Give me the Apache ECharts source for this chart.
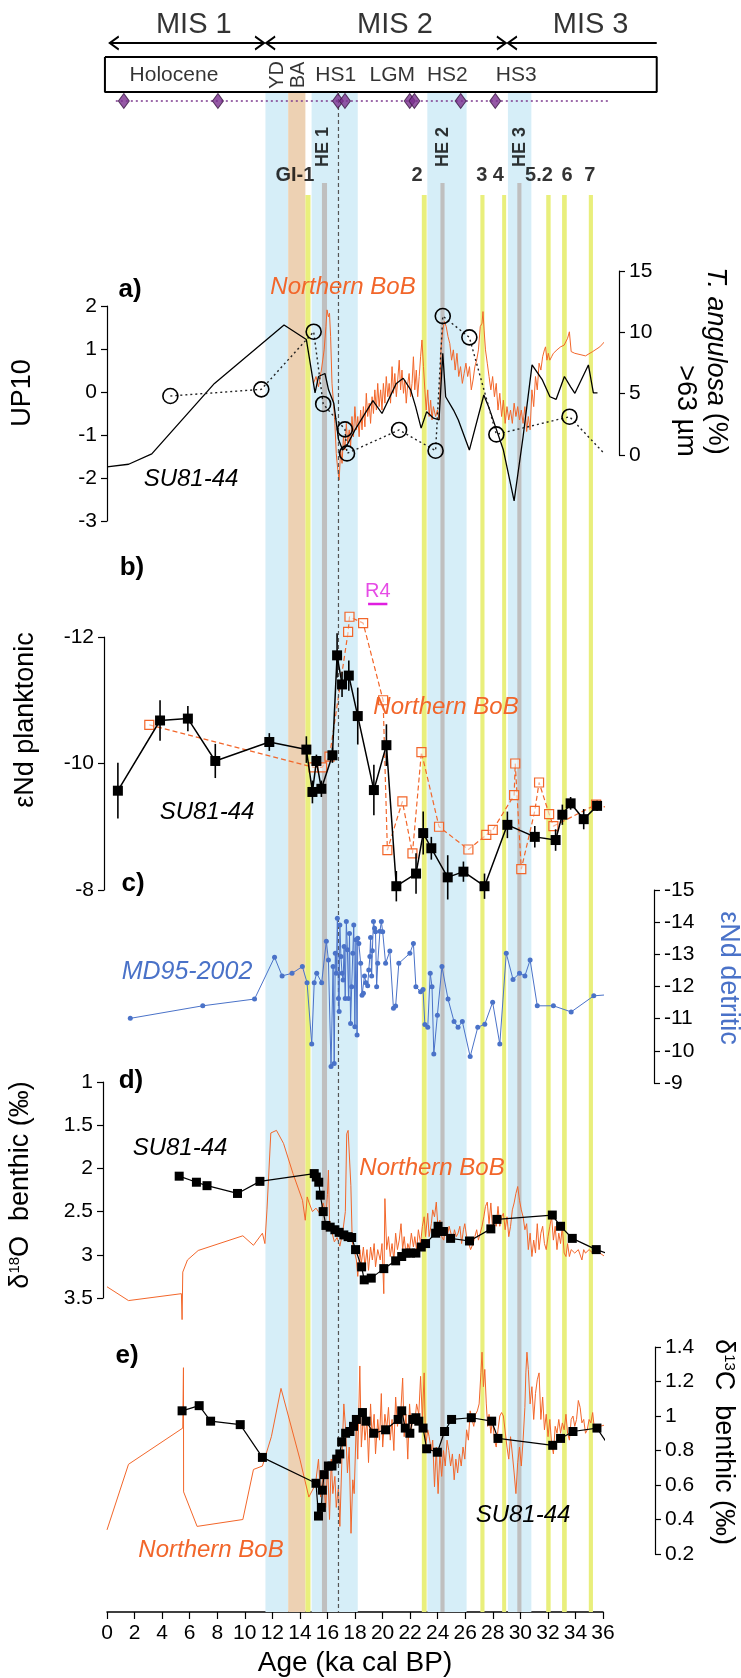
<!DOCTYPE html>
<html>
<head>
<meta charset="utf-8">
<title>SU81-44 / Northern BoB records</title>
<script src="https://cdn.jsdelivr.net/npm/echarts@6/dist/echarts.min.js"></script>
<style>
  html, body { margin: 0; padding: 0; background: #fff; }
  #main { width: 741px; height: 1678px; }
</style>
</head>
<body>
<div id="main"></div>
<script>
const FONT = '"Liberation Sans", Arial, sans-serif';
const ORANGE = '#f2662a';
const BLUE = '#4a72c8';

// ---- shaded intervals (ka cal BP) ----
const blueBands = [[11.5, 13.15], [14.85, 18.2], [23.25, 26.1], [29.1, 30.8]];
const baBand = [[13.15, 14.4]];
const yellowLines = [[14.4, 14.77], [22.85, 23.2], [27.1, 27.4], [28.68, 28.97], [31.88, 32.2], [33.03, 33.37], [34.97, 35.27]];
const heLines = [[15.6, 15.97], [24.2, 24.5], [29.78, 30.08]];
const dashedAge = 16.8;

// ---- header annotations ----
const misNames = ['MIS 1', 'MIS 2', 'MIS 3'];
const misLabelAges = [6.3, 20.9, 35.1];
const misArrows = [[0.2, 11.4], [11.55, 28.95], [29.1, 39.9]];
const boxAges = [-0.15, 39.9];
const periodNames = ['Holocene', 'HS1', 'LGM', 'HS2', 'HS3'];
const periodAges = [4.86, 16.6, 20.7, 24.7, 29.7];
const stadialNames = ['YD', 'BA'];
const stadialAges = [12.4, 13.9];
const datingAges = [1.22, 8.05, 16.76, 17.27, 21.97, 22.31, 25.67, 28.18];
const datingLine = [0.64, 36.5];
const heNames = ['HE 1', 'HE 2', 'HE 3'];
const heAges = [15.67, 24.38, 29.97];
const giNames = ['GI-1', '2', '3', '4', '5.2', '6', '7'];
const giAges = [13.64, 22.5, 27.2, 28.4, 31.35, 33.4, 35.05];
const r4Span = [18.95, 20.35];

// ---- a) UP10 and T. angulosa ----
const up10Su81 = [[0, -1.74], [1.57, -1.68], [3.25, -1.44], [7.8, 0.2], [12.85, 1.56], [14.47, 1.22], [15.1, -0.02],
  [15.35, 0.36], [15.82, 0.43], [16.08, 0.05], [16.46, -0.26], [16.8, -1.1], [17.1, -1.35], [17.4, -1.25], [18.0, -0.88],
  [19.3, -0.2], [19.96, -0.5], [21.0, 0.2], [21.5, 0.32], [22.04, 0.05], [22.4, -0.34], [22.8, -0.84], [23.2, -0.46],
  [23.7, -0.61], [24.1, -0.65], [24.37, 0.9], [24.58, -0.11], [25.15, -0.42], [25.5, -0.65], [26.3, -1.35], [27.35, -0.07],
  [27.74, -0.38], [28.77, -1.35], [29.55, -2.53], [30.2, -1.04], [30.85, 0.63], [31.6, 0.28], [32.15, -0.11], [32.6, -0.17],
  [33.2, 0.36], [33.65, 0.12], [33.96, -0.03], [34.94, 0.63], [35.3, -0.02], [35.6, -0.02]];
const up10Bob = [[14.99, 0.2], [15.17, 0.36], [15.35, 0.12], [15.56, 0.51], [15.76, 0.98], [15.89, 1.52], [15.97, 1.91],
  [16.07, 1.75], [16.15, 1.83], [16.23, 1.29], [16.33, 0.2], [16.46, -0.34], [16.54, -0.73], [16.64, -1.43], [16.75, -1.81],
  [16.85, -2.05], [16.96, -1.35], [17.06, -1.66], [17.16, -1.04], [17.27, -1.35], [17.37, -0.73], [17.47, -1.19], [17.58, -0.88],
  [17.68, -1.27], [17.78, -0.57], [17.89, -1.04], [17.99, -0.34], [18.1, -0.88], [18.2, -0.57], [18.3, -1.04], [18.41, -0.42],
  [18.51, -0.88], [18.61, -0.34], [18.72, -0.81], [18.82, -0.03], [18.92, -0.57], [19.03, -0.26], [19.13, -0.73], [19.24, -0.11],
  [19.34, -0.5], [19.44, 0.05], [19.55, -0.42], [19.65, 0.2], [19.75, -0.34], [19.86, 0.05], [19.96, -0.42], [20.06, 0.2],
  [20.17, -0.26], [20.27, 0.36], [20.38, -0.11], [20.48, 0.2], [20.58, -0.26], [20.69, 0.59], [20.79, -0.03], [20.89, 0.43],
  [21.0, -0.11], [21.1, 0.28], [21.21, 0.74], [21.31, 0.05], [21.41, 0.51], [21.52, -0.03], [21.62, 0.28], [21.72, -0.26],
  [21.83, 0.2], [21.93, 0.43], [22.03, -0.11], [22.14, 0.2], [22.24, 0.82], [22.34, 0.05], [22.45, 0.51], [22.55, -0.11],
  [22.66, 0.36], [22.76, 0.82], [22.86, 1.21], [22.97, 0.59], [23.07, 0.05], [23.17, -0.42], [23.28, 0.05], [23.38, -0.57],
  [23.49, -0.19], [23.59, -0.65], [23.69, -0.34], [23.85, -0.57], [23.98, -0.42], [24.11, -0.65], [24.24, 0.98], [24.37, 1.44],
  [24.49, 1.64], [24.62, 1.52], [24.75, 1.29], [24.88, 1.13], [25.01, 0.74], [25.14, 0.98], [25.27, 0.51], [25.4, 0.9],
  [25.53, 0.36], [25.66, 0.59], [25.79, 0.2], [25.92, 0.43], [26.05, 0.67], [26.18, 0.36], [26.31, 0.59], [26.44, 0.05],
  [26.57, 0.28], [26.7, 0.59], [26.83, 0.74], [26.96, 0.98], [27.09, 1.52], [27.22, 1.6], [27.29, 1.87], [27.37, 1.44],
  [27.47, 0.98], [27.6, 0.67], [27.73, 0.36], [27.86, 0.05], [27.99, 0.36], [28.12, -0.11], [28.25, 0.2], [28.38, -0.42],
  [28.51, -0.03], [28.64, -0.57], [28.77, -0.19], [28.9, -0.73], [29.03, -0.34], [29.16, -0.65], [29.29, -0.42], [29.42, -0.73],
  [29.55, -0.26], [29.68, -0.57], [29.81, -0.34], [29.94, -0.65], [30.07, -0.42], [30.2, -0.73], [30.33, -0.34], [30.46, -0.92],
  [30.58, -0.57], [30.71, -0.88], [30.84, 0.05], [30.97, -0.34], [31.1, 0.36], [31.23, 0.05], [31.36, 0.67], [31.49, 0.51],
  [31.62, 0.82], [31.75, 0.98], [31.83, 1.05], [31.93, 0.74], [32.03, 0.9], [32.14, 0.74], [32.27, 0.82], [32.4, 0.9],
  [32.66, 0.98], [32.92, 1.05], [33.18, 1.09], [33.43, 1.25], [33.56, 1.4], [33.69, 0.94], [33.95, 0.9], [34.73, 0.84],
  [35.25, 0.94], [35.77, 1.05], [36.23, 1.21]];
const tangSu81 = [[4.6, 4.81], [11.2, 5.35], [15.0, 10.05], [15.69, 4.16], [17.27, 2.09], [17.42, 0.13], [21.2, 2.04],
  [23.85, 0.35], [24.37, 11.33], [26.3, 9.59], [28.26, 1.68], [33.57, 3.12]];
const tangEnd = [36.08, 0.13];

// ---- b) eNd planktonic ----
const ndSu81 = [[0.79, -9.57], [3.85, -10.68], [5.87, -10.71], [7.86, -10.04], [11.78, -10.34], [14.47, -10.22],
  [14.91, -9.55], [15.2, -10.04], [15.56, -9.6], [16.36, -10.13], [16.7, -11.71], [17.06, -11.25], [17.55, -11.39],
  [18.2, -10.75], [19.37, -9.58], [20.28, -10.29], [21.0, -8.06], [22.43, -8.26], [22.95, -8.9], [23.54, -8.66],
  [24.73, -8.2], [25.87, -8.29], [27.4, -8.06], [29.06, -9.03], [31.05, -8.84], [32.56, -8.79], [33.05, -9.19],
  [33.65, -9.37], [34.6, -9.12], [35.57, -9.33]];
const ndSu81Err = [0.44, 0.32, 0.2, 0.27, 0.14, 0.21, 0.18, 0.1, 0.13, 0.12, 0.35, 0.2, 0.24, 0.45, 0.4, 0.33,
  0.24, 0.32, 0.34, 0.18, 0.35, 0.16, 0.2, 0.21, 0.17, 0.17, 0.16, 0.1, 0.16, 0.08];
const ndBob = [[3.07, -10.61], [14.99, -9.94], [15.61, -9.94], [16.15, -10.11], [17.5, -12.08], [17.6, -12.32],
  [18.59, -12.22], [20.04, -11.0], [20.35, -8.63], [21.44, -9.4], [22.17, -8.58], [22.82, -10.18], [24.1, -9.0],
  [26.23, -8.64], [27.53, -8.87], [28.0, -8.95], [29.55, -9.5], [29.63, -10.0], [30.07, -8.33], [31.05, -9.25],
  [31.36, -9.7], [32.09, -9.2], [32.4, -9.01], [35.5, -9.35]];
const ndBobEnd = [36.2, -9.31];

// ---- c) eNd detritic MD95-2002 ----
const ndDet = [[1.69, -11.01], [6.95, -11.4], [10.71, -11.61], [12.16, -12.91], [12.71, -12.33], [13.43, -12.41],
  [14.18, -12.62], [14.52, -12.12], [14.86, -10.21], [15.04, -12.12], [15.22, -12.41], [15.58, -12.12], [15.92, -13.41],
  [16.07, -12.82], [16.26, -9.51], [16.41, -12.62], [16.49, -9.61], [16.57, -13.03], [16.64, -12.41], [16.72, -14.12],
  [16.8, -11.63], [16.85, -11.22], [16.9, -13.91], [16.98, -12.93], [17.06, -12.41], [17.14, -12.2], [17.21, -13.24],
  [17.29, -11.63], [17.37, -14.02], [17.45, -13.14], [17.53, -11.63], [17.6, -13.65], [17.68, -10.85], [17.76, -11.99],
  [17.84, -13.03], [17.91, -13.91], [17.99, -10.75], [18.07, -13.45], [18.15, -10.49], [18.2, -13.5], [18.28, -13.34],
  [18.41, -12.72], [18.51, -11.73], [18.61, -11.79], [18.69, -12.33], [18.8, -12.12], [18.92, -12.02], [19.0, -12.51],
  [19.08, -12.93], [19.13, -13.52], [19.21, -12.33], [19.26, -13.11], [19.34, -14.02], [19.42, -13.81], [19.49, -13.7],
  [19.57, -11.99], [19.65, -12.72], [19.81, -13.72], [19.91, -14.02], [20.01, -13.7], [20.22, -12.72], [20.53, -13.1],
  [20.79, -11.32], [20.95, -11.39], [21.18, -12.72], [21.98, -13.03], [22.24, -13.34], [22.42, -11.99], [22.76, -11.84],
  [22.94, -11.91], [23.07, -10.82], [23.28, -10.73], [23.46, -12.41], [23.59, -11.99], [23.72, -9.9], [23.98, -11.11],
  [24.31, -12.62], [24.75, -11.61], [25.19, -10.91], [25.48, -10.73], [25.79, -10.91], [26.36, -9.82], [26.91, -10.73],
  [27.42, -10.83], [27.99, -11.51], [28.51, -10.21], [28.98, -13.03], [29.47, -12.22], [29.94, -12.41], [30.33, -12.33],
  [30.71, -12.82], [31.23, -11.4], [32.4, -11.4], [33.69, -11.21], [35.33, -11.71]];
const ndDetEnd = [36.23, -11.74];

// ---- d) d18O benthic ----
const d18Su81 = [[5.24, 2.09], [6.49, 2.16], [7.26, 2.2], [9.47, 2.29], [11.1, 2.15], [15.04, 2.06], [15.19, 2.1],
  [15.37, 2.16], [15.48, 2.31], [15.69, 2.5], [15.89, 2.66], [16.2, 2.68], [16.54, 2.71], [16.85, 2.74], [17.19, 2.77],
  [17.5, 2.79], [17.76, 2.8], [18.04, 2.94], [18.48, 3.14], [18.67, 3.29], [19.18, 3.27], [20.09, 3.16], [20.95, 3.07],
  [21.39, 3.02], [21.72, 2.98], [22.03, 2.98], [22.42, 2.98], [22.81, 2.91], [23.12, 2.87], [23.85, 2.75], [24.03, 2.67],
  [24.42, 2.73], [24.94, 2.81], [26.31, 2.84], [27.86, 2.7], [28.3, 2.59], [32.32, 2.54], [32.92, 2.67], [33.77, 2.81],
  [35.51, 2.94]];
const d18Su81End = [36.23, 2.98];
const d18Bob = [[0, 3.37], [1.56, 3.53], [5.4, 3.45], [5.45, 3.75], [5.5, 3.2], [5.84, 3.06], [6.62, 2.95], [9.86, 2.78],
  [10.63, 2.89], [11.28, 2.75], [11.46, 2.87], [11.61, 2.48], [11.89, 1.59], [12.3, 1.56], [12.81, 1.71], [13.5, 2.06],
  [14.19, 2.37], [14.39, 2.6], [14.53, 2.33], [14.65, 2.39], [14.91, 2.5], [15.17, 2.46], [15.43, 2.52], [15.69, 2.4],
  [15.9, 2.55], [16.0, 2.3], [16.07, 2.02], [16.15, 2.6], [16.3, 2.72], [16.5, 2.85], [16.7, 2.8], [16.9, 2.9], [17.1, 2.75],
  [17.3, 2.5], [17.4, 1.6], [17.5, 1.56], [17.6, 1.58], [17.7, 2.2], [17.8, 2.85], [17.94, 2.83], [18.1, 3.06], [18.2, 3.25],
  [18.35, 2.94], [18.46, 3.1], [18.61, 2.91], [18.72, 3.14], [18.87, 2.94], [18.98, 3.18], [19.13, 2.91], [19.26, 3.06],
  [19.39, 2.87], [19.49, 3.14], [19.65, 2.94], [19.83, 3.06], [19.96, 2.87], [20.09, 3.45], [20.17, 2.35], [20.3, 2.94],
  [20.43, 2.79], [20.56, 3.02], [20.69, 2.87], [20.82, 3.06], [20.95, 2.75], [21.08, 2.94], [21.21, 2.83], [21.34, 2.64],
  [21.46, 2.94], [21.57, 2.79], [21.72, 3.02], [21.83, 2.87], [21.96, 2.94], [22.09, 2.75], [22.24, 2.91], [22.34, 2.79],
  [22.47, 2.94], [22.6, 2.71], [22.76, 2.87], [22.89, 2.67], [23.02, 2.56], [23.12, 2.79], [23.28, 2.52], [23.38, 2.79],
  [23.54, 2.64], [23.64, 2.48], [23.77, 2.56], [23.9, 2.39], [24.03, 2.71], [24.16, 2.6], [24.29, 2.79], [24.44, 2.83],
  [24.57, 2.71], [24.7, 2.79], [24.83, 2.67], [24.96, 2.75], [25.09, 2.83], [25.22, 2.71], [25.35, 2.79], [25.48, 2.75],
  [25.61, 2.67], [25.74, 2.87], [25.87, 2.71], [25.97, 2.64], [26.1, 2.79], [26.26, 2.87], [26.39, 2.94], [26.57, 2.87],
  [26.7, 2.79], [26.83, 2.71], [26.96, 2.83], [27.09, 2.75], [27.22, 2.67], [27.35, 2.56], [27.47, 2.44], [27.6, 2.39],
  [27.73, 2.64], [27.86, 2.4], [27.99, 2.71], [28.12, 2.56], [28.25, 2.67], [28.38, 2.44], [28.51, 2.67], [28.64, 2.56],
  [28.77, 2.52], [28.9, 2.71], [29.03, 2.56], [29.16, 2.79], [29.29, 2.67], [29.42, 2.48], [29.55, 2.4], [29.68, 2.29],
  [29.81, 2.21], [29.94, 2.37], [30.07, 2.48], [30.2, 2.56], [30.33, 2.71], [30.46, 2.64], [30.58, 2.94], [30.71, 2.75],
  [30.84, 3.02], [30.97, 2.83], [31.1, 2.98], [31.23, 2.64], [31.36, 2.94], [31.49, 2.75], [31.62, 2.67], [31.75, 2.87],
  [31.88, 2.94], [32.01, 2.79], [32.14, 2.67], [32.27, 2.56], [32.4, 2.83], [32.53, 2.67], [32.66, 2.94], [32.79, 2.75],
  [32.92, 2.87], [33.05, 2.67], [33.18, 2.98], [33.31, 3.02], [33.43, 2.87], [33.56, 3.02], [33.69, 2.94], [33.95, 2.98],
  [34.21, 2.94], [34.47, 3.06], [34.6, 2.94], [34.73, 2.98], [34.99, 2.94], [35.25, 2.98], [35.51, 2.96], [35.77, 2.98],
  [36.23, 3.03]];

// ---- e) d13C benthic ----
const d13Su81 = [[5.45, 1.03], [6.69, 1.06], [7.52, 0.97], [9.67, 0.95], [11.28, 0.76], [15.17, 0.61], [15.35, 0.42],
  [15.56, 0.47], [15.63, 0.57], [15.76, 0.66], [16.07, 0.71], [16.33, 0.71], [16.67, 0.75], [16.9, 0.78], [17.03, 0.85],
  [17.32, 0.9], [17.63, 0.91], [17.89, 0.94], [18.1, 0.98], [18.54, 1.02], [18.8, 0.97], [19.36, 0.9], [20.22, 0.92],
  [21.13, 0.98], [21.39, 1.03], [21.65, 0.93], [21.98, 0.9], [22.19, 0.98], [22.42, 0.99], [22.63, 0.97], [22.94, 0.93],
  [23.2, 0.81], [23.98, 0.79], [24.5, 0.91], [25.01, 0.98], [26.44, 0.99], [27.92, 0.97], [28.38, 0.87], [32.35, 0.83],
  [32.92, 0.87], [33.82, 0.91], [35.56, 0.93]];
const d13Su81End = [36.23, 0.85];
const d13Bob = [[0, 0.34], [1.56, 0.72], [5.5, 0.93], [5.55, 1.28], [5.56, 0.56], [6.54, 0.36], [9.86, 0.4], [10.63, 0.69],
  [11.28, 0.71], [11.93, 0.88], [12.63, 1.16], [14.0, 0.75], [14.65, 0.53], [15.04, 0.59], [15.17, 0.63], [15.35, 0.75],
  [15.5, 0.53], [15.69, 0.67], [15.87, 0.47], [16.02, 0.71], [16.15, 0.4], [16.28, 0.75], [16.39, 0.55], [16.54, 0.65],
  [16.64, 0.47], [16.8, 0.59], [16.9, 0.36], [17.06, 0.78], [17.19, 1.07], [17.32, 0.92], [17.45, 0.67], [17.58, 0.82],
  [17.71, 0.32], [17.84, 0.63], [17.94, 0.55], [18.1, 0.98], [18.2, 0.75], [18.35, 1.29], [18.46, 0.82], [18.61, 1.01],
  [18.72, 0.86], [18.87, 0.98], [18.98, 0.73], [19.13, 1.07], [19.24, 0.88], [19.39, 1.01], [19.49, 0.78], [19.65, 0.98],
  [19.78, 0.86], [19.91, 1.13], [20.01, 0.82], [20.17, 1.01], [20.3, 0.92], [20.43, 1.05], [20.56, 0.86], [20.69, 0.98],
  [20.82, 0.8], [20.95, 1.11], [21.08, 0.94], [21.21, 1.01], [21.34, 1.05], [21.46, 1.22], [21.57, 0.88], [21.7, 1.01],
  [21.83, 0.75], [21.96, 1.07], [22.09, 0.92], [22.21, 1.01], [22.34, 0.96], [22.47, 1.07], [22.63, 1.01], [22.76, 1.23],
  [22.89, 0.98], [23.02, 1.25], [23.12, 0.82], [23.28, 0.92], [23.38, 0.88], [23.54, 0.8], [23.64, 0.86], [23.77, 0.59],
  [23.9, 0.82], [24.03, 0.55], [24.16, 0.78], [24.29, 0.65], [24.42, 0.8], [24.55, 0.71], [24.68, 0.86], [24.81, 0.8],
  [24.94, 0.71], [25.07, 0.78], [25.2, 0.63], [25.32, 0.75], [25.45, 0.67], [25.58, 0.78], [25.71, 0.71], [25.84, 0.82],
  [25.97, 0.75], [26.1, 0.92], [26.23, 0.86], [26.36, 1.03], [26.49, 0.98], [26.62, 0.94], [26.75, 1.01], [26.88, 1.03],
  [27.01, 1.07], [27.14, 1.25], [27.22, 1.37], [27.32, 1.17], [27.42, 1.27], [27.53, 1.07], [27.63, 0.94], [27.73, 1.01],
  [27.86, 0.9], [27.99, 0.98], [28.12, 0.86], [28.25, 0.82], [28.38, 0.92], [28.51, 1.0], [28.64, 1.02], [28.77, 1.0],
  [28.9, 1.0], [29.03, 0.82], [29.16, 0.75], [29.29, 0.88], [29.42, 0.78], [29.55, 0.67], [29.68, 0.55], [29.81, 0.73],
  [29.94, 0.82], [30.07, 0.71], [30.2, 0.86], [30.33, 1.05], [30.4, 1.25], [30.48, 1.37], [30.58, 1.27], [30.71, 1.07],
  [30.84, 1.17], [30.97, 0.98], [31.1, 1.13], [31.23, 1.21], [31.36, 1.25], [31.49, 0.98], [31.62, 1.11], [31.75, 0.92],
  [31.88, 1.01], [32.01, 0.88], [32.14, 0.98], [32.27, 0.84], [32.4, 0.78], [32.53, 0.94], [32.66, 0.9], [32.79, 0.98],
  [32.92, 0.9], [33.05, 0.96], [33.18, 0.92], [33.31, 1.01], [33.43, 0.9], [33.56, 0.86], [33.69, 0.98], [33.82, 1.0],
  [33.95, 0.94], [34.08, 0.98], [34.21, 1.09], [34.34, 1.05], [34.47, 0.96], [34.6, 0.98], [34.73, 0.9], [34.86, 0.92],
  [34.99, 0.98], [35.12, 0.96], [35.25, 1.02], [35.38, 0.92], [35.51, 0.94], [35.77, 0.94], [36.23, 0.95]];

// ---------------------------------------------------------------
const chart = echarts.init(document.getElementById('main'));

const PX_PER_KA = 496 / 36;
const grids = [
  { top: 0, height: 1612 },   // shared age axis and shading
  { top: 306, height: 215 },  // a) UP10
  { top: 271, height: 184 },  // a) T. angulosa
  { top: 637, height: 253 },  // b)
  { top: 890, height: 193 },  // c)
  { top: 1082, height: 216 }, // d)
  { top: 1347, height: 207 }, // e)
  // header strip: same age scale, widened to -1 .. 40 ka so the box and MIS 3 arrow fit
  { top: 0, height: 1612, left: 107 - PX_PER_KA, width: 41 * PX_PER_KA }
].map(g => Object.assign({ left: 107, width: 496, outerBoundsMode: 'none' }, g));

const xAxes = grids.map((g, i) => ({
  gridIndex: i, type: 'value', min: i === 7 ? -1 : 0, max: i === 7 ? 40 : 36, interval: 2, show: i === 0,
  axisLine: { onZero: false, lineStyle: { color: '#000', width: 1.5 } },
  axisTick: { length: 7, lineStyle: { color: '#000', width: 1.2 } },
  axisLabel: { fontSize: 21, color: '#000', margin: 11, fontFamily: FONT },
  splitLine: { show: false },
  name: i === 0 ? 'Age (ka cal BP)' : '', nameLocation: 'middle', nameGap: 37,
  nameTextStyle: { fontSize: 28, color: '#000', fontFamily: FONT }
}));

function yAx(grid, min, max, interval, extra) {
  return Object.assign({
    gridIndex: grid, type: 'value', min: min, max: max, interval: interval,
    axisLine: { show: true, onZero: false, lineStyle: { color: '#000', width: 1.2 } },
    axisTick: { show: true, length: 6, lineStyle: { color: '#000', width: 1.2 } },
    axisLabel: { fontSize: 21, color: '#000', margin: 10, fontFamily: FONT },
    splitLine: { show: false }
  }, extra);
}

const yAxes = [
  { gridIndex: 0, type: 'value', min: 0, max: 1612, inverse: true, show: false },
  yAx(1, -3, 2, 1, {}),
  yAx(2, 0, 15, 5, { position: 'right', offset: 16 }),
  yAx(3, -12, -8, 2, { inverse: true, offset: 3 }),
  yAx(4, -15, -9, 1, { inverse: true, position: 'right', offset: 51 }),
  yAx(5, 1, 3.5, 0.5, { inverse: true, offset: 4 }),
  yAx(6, 0.2, 1.4, 0.2, { position: 'right', offset: 52 }),
  { gridIndex: 7, type: 'value', min: 0, max: 1612, inverse: true, show: false }
];

const on = i => ({ xAxisIndex: i, yAxisIndex: i });
const HDR = 7;

const bandArea = (list, top, color) => list.map(([a, b]) => [
  { xAxis: a, yAxis: top, itemStyle: { color: color } }, { xAxis: b, yAxis: 1612 }
]);

function labelSeries(names, ages, ypx, label) {
  return {
    type: 'scatter', ...on(HDR), clip: false, silent: true, z: 10, symbolSize: 1,
    itemStyle: { color: 'rgba(0,0,0,0)' },
    data: names.map((n, i) => ({ name: n, value: [ages[i], ypx] })),
    label: Object.assign({ show: true, position: 'inside', color: '#000', fontFamily: FONT,
      formatter: p => p.name }, label)
  };
}

const chevL = 'path://M10,0L0,5L10,10';
const chevR = 'path://M0,0L10,5L0,10';

const errBars = ndSu81.map(([a, v], i) => [a, v - ndSu81Err[i], v + ndSu81Err[i]]);

const series = [
  // shaded bands
  { type: 'line', ...on(0), data: [], silent: true, z: 0,
    markArea: { silent: true, itemStyle: { opacity: 1 },
      data: [].concat(bandArea(blueBands, 93, '#d6eef8'), bandArea(baBand, 93, '#edd1b3'),
        bandArea(yellowLines, 195, '#e9ef7c'), bandArea(heLines, 183, '#bfbfbf')) } },
  // dashed age line
  { type: 'line', ...on(0), silent: true, z: 4, symbol: 'none',
    data: [[dashedAge, 92], [dashedAge, 1612]],
    lineStyle: { type: [4, 3], color: '#555', width: 1.2 } },
  // header box
  { type: 'line', ...on(HDR), silent: true, symbol: 'none',
    data: [[boxAges[0], 57], [boxAges[1], 57], [boxAges[1], 92], [boxAges[0], 92], [boxAges[0], 57]],
    lineStyle: { color: '#000', width: 2 } },
  // MIS arrows
  ...misArrows.map(([a, b], i) => ({
    type: 'line', ...on(HDR), silent: true, symbolSize: [9, 13], showAllSymbol: true,
    lineStyle: { color: '#000', width: 1.8 },
    itemStyle: { color: 'rgba(0,0,0,0)', borderColor: '#000', borderWidth: 1.8 },
    data: [
      { value: [a, 43], symbol: chevL, symbolOffset: [4.5, 0] },
      { value: [b, 43], symbol: i < 2 ? chevR : 'none', symbolOffset: [-4.5, 0] }
    ]
  })),
  // dating control points
  { type: 'line', ...on(HDR), silent: true, symbol: 'none',
    data: datingLine.map(a => [a, 101]), lineStyle: { type: [2, 3], color: '#7d3a8f', width: 1.6 } },
  { type: 'scatter', ...on(HDR), silent: true, z: 5, symbol: 'diamond', symbolSize: [11, 15],
    data: datingAges.map(a => [a, 101]),
    itemStyle: { color: '#7b2f8f', borderColor: '#3b1a44', borderWidth: 1 } },
  // header labels
  labelSeries(misNames, misLabelAges, 25, { fontSize: 29 }),
  labelSeries(periodNames, periodAges, 75, { fontSize: 21 }),
  labelSeries(stadialNames, stadialAges, 75, { fontSize: 20, rotate: 90 }),
  labelSeries(heNames, heAges, 147, { fontSize: 18, fontWeight: 'bold', rotate: 90 }),
  labelSeries(giNames, giAges, 175, { fontSize: 20, fontWeight: 'bold' }),
  labelSeries(['R4'], [(r4Span[0] + r4Span[1]) / 2], 591, { fontSize: 20, color: '#e01ee0' }),
  { type: 'line', ...on(HDR), silent: true, symbol: 'none', data: r4Span.map(a => [a, 604]),
    lineStyle: { color: '#e01ee0', width: 2.5 } },

  // a)
  { type: 'line', ...on(1), clip: false, z: 3, symbol: 'none', data: up10Bob,
    lineStyle: { color: ORANGE, width: 1 } },
  { type: 'line', ...on(1), z: 4, symbol: 'none', data: up10Su81,
    lineStyle: { color: '#000', width: 1.3 } },
  { type: 'line', ...on(2), clip: false, z: 6, symbol: 'circle', symbolSize: 15, showAllSymbol: true,
    data: tangSu81.concat([{ value: tangEnd, symbol: 'none' }]),
    itemStyle: { color: 'rgba(255,255,255,0)', borderColor: '#000', borderWidth: 1.6 },
    lineStyle: { type: [2, 3], color: '#222', width: 1.4 } },

  // b)
  { type: 'line', ...on(3), clip: false, z: 3, symbol: 'rect', symbolSize: 9, showAllSymbol: true,
    data: ndBob.concat([{ value: ndBobEnd, symbol: 'none' }]),
    itemStyle: { color: 'rgba(255,255,255,0.5)', borderColor: ORANGE, borderWidth: 1.2 },
    lineStyle: { type: [5, 3], color: ORANGE, width: 1.2 } },
  { type: 'custom', ...on(3), z: 4, clip: false, data: errBars,
    encode: { x: 0, y: [1, 2] },
    renderItem: function (params, api) {
      const p1 = api.coord([api.value(0), api.value(1)]);
      const p2 = api.coord([api.value(0), api.value(2)]);
      return { type: 'line', shape: { x1: p1[0], y1: p1[1], x2: p2[0], y2: p2[1] },
        style: { stroke: '#000', lineWidth: 1.6 } };
    } },
  { type: 'line', ...on(3), clip: false, z: 5, symbol: 'rect', symbolSize: 10, showAllSymbol: true,
    data: ndSu81, itemStyle: { color: '#000' }, lineStyle: { color: '#000', width: 1.5 } },

  // c)
  { type: 'line', ...on(4), clip: false, z: 4, symbol: 'circle', symbolSize: 5, showAllSymbol: true,
    data: ndDet.concat([{ value: ndDetEnd, symbol: 'none' }]),
    itemStyle: { color: BLUE }, lineStyle: { color: BLUE, width: 1 } },

  // d)
  { type: 'line', ...on(5), clip: false, z: 3, symbol: 'none', data: d18Bob,
    lineStyle: { color: ORANGE, width: 1 } },
  { type: 'line', ...on(5), clip: false, z: 5, symbol: 'rect', symbolSize: 9, showAllSymbol: true,
    data: d18Su81.concat([{ value: d18Su81End, symbol: 'none' }]),
    itemStyle: { color: '#000' }, lineStyle: { color: '#000', width: 1.2 } },

  // e)
  { type: 'line', ...on(6), clip: false, z: 3, symbol: 'none', data: d13Bob,
    lineStyle: { color: ORANGE, width: 1 } },
  { type: 'line', ...on(6), clip: false, z: 5, symbol: 'rect', symbolSize: 9, showAllSymbol: true,
    data: d13Su81.concat([{ value: d13Su81End, symbol: 'none' }]),
    itemStyle: { color: '#000' }, lineStyle: { color: '#000', width: 1.2 } }
];

// text annotations (titles, panel letters, record names)
function txt(text, x, y, style, rot) {
  return { type: 'text', x: x, y: y, rotation: rot || 0, silent: true, z: 100,
    style: Object.assign({ text: text, fontFamily: FONT, fontSize: 24, fill: '#000',
      align: 'center', verticalAlign: 'middle' }, style) };
}
const UP = Math.PI / 2, DOWN = -Math.PI / 2;
const titleStyle = { fontSize: 27 };
const supRich = { n: { fontSize: 27, fontFamily: FONT }, s: { fontSize: 15, fontFamily: FONT, verticalAlign: 'top' } };
const letter = { fontSize: 26, fontWeight: 'bold' };
const italic = (color, size) => ({ fontStyle: 'italic', fill: color, fontSize: size || 24 });

const graphics = [
  txt('UP10', 23, 393, titleStyle, UP),
  txt('εNd planktonic', 26, 720, titleStyle, UP),
  txt('{n|δ}{s|18}{n|O  benthic (‰)}', 21, 1185, { rich: supRich }, UP),
  txt('{i|T. angulosa} {n|(%)}', 716, 361, { rich: { i: { fontSize: 27, fontStyle: 'italic', fontFamily: FONT }, n: { fontSize: 27, fontFamily: FONT } } }, DOWN),
  txt('>63 µm', 685, 411, titleStyle, DOWN),
  txt('εNd detritic', 728, 978, { fontSize: 27, fill: BLUE }, DOWN),
  txt('{n|δ}{s|13}{n|C  benthic (‰)}', 723, 1442, { rich: supRich }, DOWN),
  txt('a)', 130, 290, letter),
  txt('b)', 132, 568, letter),
  txt('c)', 133, 884, letter),
  txt('d)', 131, 1081, letter),
  txt('e)', 127, 1356, letter),
  txt('Northern BoB', 343, 287, italic(ORANGE)),
  txt('SU81-44', 191, 479, italic('#000')),
  txt('Northern BoB', 446, 707, italic(ORANGE)),
  txt('SU81-44', 207, 812, italic('#000')),
  txt('MD95-2002', 187, 972, italic(BLUE, 25)),
  txt('SU81-44', 180, 1148, italic('#000')),
  txt('Northern BoB', 432, 1168, italic(ORANGE)),
  txt('SU81-44', 523, 1515, italic('#000')),
  txt('Northern BoB', 211, 1550, italic(ORANGE))
];

chart.setOption({
  animation: false,
  backgroundColor: '#fff',
  grid: grids,
  xAxis: xAxes,
  yAxis: yAxes,
  series: series,
  graphic: graphics
});
</script>
</body>
</html>
